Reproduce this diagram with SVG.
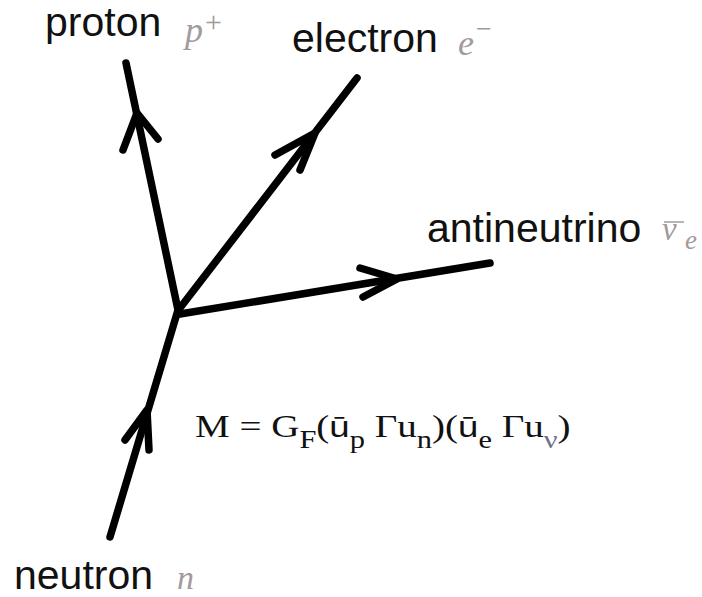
<svg xmlns="http://www.w3.org/2000/svg" width="702" height="597" viewBox="0 0 702 597">
<style>
.lbl{font-family:"Liberation Sans",Arial,sans-serif;font-size:41px;fill:#111}
.math{font-family:"Liberation Serif","Times New Roman",serif;font-style:italic;fill:#a39a9c}
.sym{font-family:"Liberation Serif","Times New Roman",serif;fill:#a39a9c}
.eq{font-family:"Liberation Serif","Times New Roman",serif;font-size:32px;fill:#111}
.eqs{font-size:25px}
.bu{font-family:"Liberation Sans",Arial,sans-serif;font-size:30px}
.ln{fill:none;stroke:#000;stroke-width:7.5;stroke-linecap:round;stroke-linejoin:round}
</style>
<rect width="702" height="597" fill="#fff"/>
<g id="connectors">
<path class="ln" d="M178,310 L126,63"/>
<path class="ln" d="M123,150 L137,113 L158,139"/>
<path class="ln" d="M180,308 L357,78"/>
<path class="ln" d="M275,155 L315,133 L300,170"/>
<path class="ln" d="M180,314 L490,263"/>
<path class="ln" d="M360,268 L397,279 L363,297"/>
<path class="ln" d="M110,537 L178,310"/>
<path class="ln" d="M125,440 L147,410 L149,450"/>
</g>
<g id="proton">
<text class="lbl" x="45" y="36">proton</text>
<text class="math" x="185" y="42" font-size="36">p</text>
<text class="sym" x="205" y="32" font-size="30">+</text>
</g>
<g id="electron">
<text class="lbl" x="292" y="52">electron</text>
<text class="math" x="458" y="55" font-size="36">e</text>
<text class="sym" x="476" y="38" font-size="28">−</text>
</g>
<g id="antineutrino">
<text class="lbl" x="427" y="242">antineutrino</text>
<text class="math" x="662" y="240" font-size="33">ν</text>
<line x1="664" y1="222" x2="684" y2="222" stroke="#a39a9c" stroke-width="1.5"/>
<text class="math" x="685" y="249" font-size="27">e</text>
</g>
<g id="neutron">
<text class="lbl" x="14" y="589">neutron</text>
<text class="math" x="177" y="589" font-size="34">n</text>
</g>
<g id="amplitude">
<text class="eq" transform="scale(1.22,1)" x="159.8" y="437">M = G<tspan class="eqs" dy="11">F</tspan><tspan dy="-11">(</tspan><tspan class="bu">ū</tspan><tspan class="eqs" dy="11">p</tspan><tspan dy="-11"> Γu</tspan><tspan class="eqs" dy="11">n</tspan><tspan dy="-11">)(</tspan><tspan class="bu">ū</tspan><tspan class="eqs" dy="11">e</tspan><tspan dy="-11"> Γu</tspan><tspan class="eqs" dy="11" fill="#6f7088">ν</tspan><tspan dy="-11">)</tspan></text>
</g>
</svg>
